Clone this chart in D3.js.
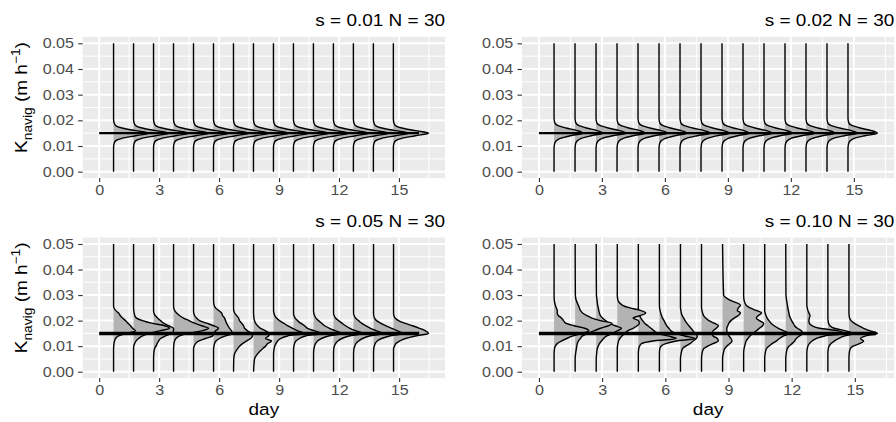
<!DOCTYPE html>
<html>
<head>
<meta charset="utf-8">
<script src="https://cdn.jsdelivr.net/npm/d3@7"></script>
<style>
  body { margin: 0; background: #fff; }
  text { font-family: "Liberation Sans", Arial, sans-serif; }
</style>
</head>
<body>
<svg id="chart" width="896" height="422"></svg>
<script>
// ---- data ----
const days = [1, 2, 3, 4, 5, 6, 7, 8, 9, 10, 11, 12, 13, 14, 15];
const dayShift = -0.28;               // ridge baseline sits just left of the day
const kRange = [0, 0.05];
const kRef = 0.015;                   // reference K_navig
const refSpan = [0, 16];
const xTicks = [0, 3, 6, 9, 12, 15];
const yTicks = [0, 0.01, 0.02, 0.03, 0.04, 0.05];
const panelTitles = ["s = 0.01 N = 30", "s = 0.02 N = 30", "s = 0.05 N = 30", "s = 0.10 N = 30"];

// K values where ridge widths were read (ridges are flat outside this range)
const kGrid = [0.005, 0.007, 0.009, 0.010, 0.011, 0.012, 0.013, 0.014, 0.015, 0.016, 0.017,
               0.018, 0.019, 0.020, 0.021, 0.022, 0.023, 0.024, 0.025, 0.026, 0.028, 0.030];

// ridge widths (in days) per day, one row per day, columns follow kGrid
const dens001 = [
  [0,0,0,.005,.03,.1,.42,1.1,1.76,1.1,.42,.1,.03,.005,0,0,0,0,0,0,0,0],
  [0,0,0,.005,.03,.1,.42,1.1,1.76,1.1,.42,.1,.03,.005,0,0,0,0,0,0,0,0],
  [0,0,0,.005,.03,.1,.42,1.1,1.76,1.1,.42,.1,.03,.005,0,0,0,0,0,0,0,0],
  [0,0,0,.005,.03,.1,.42,1.1,1.76,1.1,.42,.1,.03,.005,0,0,0,0,0,0,0,0],
  [0,0,0,.005,.03,.1,.42,1.1,1.76,1.1,.42,.1,.03,.005,0,0,0,0,0,0,0,0],
  [0,0,0,.005,.03,.1,.42,1.1,1.76,1.1,.42,.1,.03,.005,0,0,0,0,0,0,0,0],
  [0,0,0,.005,.03,.1,.42,1.1,1.76,1.1,.42,.1,.03,.005,0,0,0,0,0,0,0,0],
  [0,0,0,.005,.03,.1,.42,1.1,1.76,1.1,.42,.1,.03,.005,0,0,0,0,0,0,0,0],
  [0,0,0,.005,.03,.1,.42,1.1,1.76,1.1,.42,.1,.03,.005,0,0,0,0,0,0,0,0],
  [0,0,0,.005,.03,.1,.42,1.1,1.76,1.1,.42,.1,.03,.005,0,0,0,0,0,0,0,0],
  [0,0,0,.005,.03,.1,.42,1.1,1.76,1.1,.42,.1,.03,.005,0,0,0,0,0,0,0,0],
  [0,0,0,.005,.03,.1,.42,1.1,1.76,1.1,.42,.1,.03,.005,0,0,0,0,0,0,0,0],
  [0,0,0,.005,.03,.1,.42,1.1,1.76,1.1,.42,.1,.03,.005,0,0,0,0,0,0,0,0],
  [0,0,0,.005,.03,.1,.42,1.1,1.76,1.1,.42,.1,.03,.005,0,0,0,0,0,0,0,0],
  [0,0,0,.005,.03,.1,.42,1.1,1.76,1.1,.42,.1,.03,.005,0,0,0,0,0,0,0,0]
];

const dens002 = [
  [0,0,0,.01,.03,.1,.3,.78,1.38,1.1,.57,.17,.04,.01,0,0,0,0,0,0,0,0],
  [0,0,0,.01,.03,.1,.3,.76,1.32,1.05,.55,.17,.04,.01,0,0,0,0,0,0,0,0],
  [0,0,0,.01,.03,.1,.3,.8,1.42,1.12,.58,.18,.04,.01,0,0,0,0,0,0,0,0],
  [0,0,0,.01,.03,.1,.3,.77,1.35,1.08,.56,.17,.04,.01,0,0,0,0,0,0,0,0],
  [0,0,0,.01,.03,.1,.3,.78,1.40,1.1,.57,.17,.04,.01,0,0,0,0,0,0,0,0],
  [0,0,0,.01,.03,.1,.3,.76,1.33,1.05,.55,.17,.04,.01,0,0,0,0,0,0,0,0],
  [0,0,0,.01,.03,.1,.3,.82,1.45,1.15,.6,.18,.04,.01,0,0,0,0,0,0,0,0],
  [0,0,0,.01,.03,.1,.3,.77,1.36,1.08,.56,.17,.04,.01,0,0,0,0,0,0,0,0],
  [0,0,0,.01,.03,.1,.3,.75,1.30,1.05,.55,.17,.04,.01,0,0,0,0,0,0,0,0],
  [0,0,0,.01,.03,.1,.3,.78,1.40,1.12,.57,.17,.04,.01,0,0,0,0,0,0,0,0],
  [0,0,0,.01,.03,.1,.3,.77,1.35,1.08,.56,.17,.04,.01,0,0,0,0,0,0,0,0],
  [0,0,0,.01,.03,.1,.3,.8,1.42,1.12,.58,.18,.04,.01,0,0,0,0,0,0,0,0],
  [0,0,0,.01,.03,.1,.3,.78,1.38,1.1,.57,.17,.04,.01,0,0,0,0,0,0,0,0],
  [0,0,0,.01,.03,.1,.3,.82,1.45,1.15,.6,.18,.04,.01,0,0,0,0,0,0,0,0],
  [0,0,0,.01,.03,.1,.3,.8,1.40,1.12,.58,.18,.04,.01,0,0,0,0,0,0,0,0]
];

const dens005 = [
  [0,0,0,.01,.02,.05,.1,.25,.65,1.1,.95,.85,.72,.6,.45,.33,.25,.1,.02,0,0,0],
  [0,0,0,.01,.05,.12,.25,.45,.8,1.3,1.8,1.55,.9,.45,.15,.06,.03,.01,0,0,0,0],
  [0,.01,.05,.12,.18,.25,.35,.6,.9,1.0,1.0,.75,.5,.35,.2,.08,.02,0,0,0,0,0],
  [0,0,0,.01,.02,.05,.12,.3,.75,1.4,1.75,1.4,1.05,.78,.5,.3,.15,.05,.01,0,0,0],
  [0,0,0,.03,.1,.25,.6,.95,1.0,1.1,1.25,1.0,.65,.3,.15,.05,.01,0,0,0,0,0],
  [0,0,0,.02,.05,.12,.3,.6,.95,.9,.8,.72,.65,.6,.55,.45,.4,.25,.1,.03,0,0],
  [.01,.05,.2,.3,.45,.65,.85,.95,.9,.7,.55,.5,.4,.3,.25,.15,.05,.01,0,0,0,0],
  [.05,.2,.45,.6,.7,.9,.6,.75,.8,.6,.35,.2,.1,.05,.02,.01,0,0,0,0,0,0],
  [0,0,.03,.06,.12,.2,.35,.7,1.5,1.2,.95,.7,.5,.3,.15,.06,.02,0,0,0,0,0],
  [0,0,0,.02,.05,.12,.3,.6,1.4,1.05,.7,.55,.35,.2,.08,.02,0,0,0,0,0,0],
  [0,0,.02,.05,.1,.2,.4,.75,1.4,1.1,.8,.55,.4,.25,.12,.05,.01,0,0,0,0,0],
  [0,0,.01,.04,.1,.22,.42,.78,1.45,1.12,.82,.6,.42,.25,.1,.03,0,0,0,0,0,0],
  [0,0,.02,.06,.12,.25,.45,.8,1.45,1.15,.85,.6,.4,.25,.1,.03,0,0,0,0,0,0],
  [0,0,.01,.04,.08,.18,.4,.8,1.45,1.2,.9,.6,.35,.15,.05,.01,0,0,0,0,0,0],
  [0,0,0,.05,.12,.3,.6,1.1,1.75,1.6,1.3,.95,.55,.25,.08,.02,0,0,0,0,0,0]
];

const dens010 = [
  [0,0,.02,.06,.15,.35,.6,.9,1.3,1.65,1.45,.95,.55,.45,.35,.2,.15,.15,.1,.06,.01,0],
  [0,.02,.06,.08,.1,.15,.25,.35,.6,.9,1.2,1.6,1.75,1.2,.8,.55,.35,.25,.2,.15,.05,.01],
  [0,.02,.05,.1,.15,.25,.35,.5,.75,1.0,1.2,.9,.6,.45,.3,.2,.15,.12,.1,.07,.04,.01],
  [0,0,0,.01,.03,.06,.12,.22,.35,.5,.75,.95,1.05,1.0,.75,1.1,1.35,1.1,.6,.25,.03,0],
  [0,0,.02,.06,.15,.7,1.8,1.4,.95,.75,.6,.45,.3,.2,.12,.07,.03,.01,0,0,0,0],
  [0,0,.02,.08,.3,.8,1.7,1.2,.75,.55,.45,.35,.28,.22,.15,.1,.06,.03,.01,0,0,0],
  [0,.03,.1,.25,.45,.6,.75,.8,.7,.6,.5,.4,.3,.22,.15,.08,.04,.02,0,0,0,0],
  [0,.02,.1,.3,.55,.8,.75,.55,.5,.55,.7,.8,.6,.35,.2,.1,.05,.02,0,0,0,0],
  [0,.03,.1,.2,.35,.45,.4,.3,.25,.2,.2,.25,.3,.4,.55,.75,.85,.7,.75,.85,.35,.05],
  [0,0,.02,.05,.08,.12,.2,.3,.45,.6,.75,.9,.95,.75,.6,.7,.85,.6,.3,.12,.02,0],
  [0,.02,.08,.2,.35,.55,.7,.9,1.15,.9,.65,.45,.3,.2,.12,.06,.02,0,0,0,0,0],
  [0,.02,.07,.15,.3,.42,.5,.65,.8,.75,.55,.42,.35,.28,.22,.17,.15,.12,.1,.08,.04,.01],
  [0,0,.02,.05,.12,.25,.45,.85,1.75,1.5,.6,.25,.12,.1,.12,.15,.1,.05,.02,0,0,0],
  [0,0,.02,.06,.15,.3,.5,.8,1.2,.85,.3,.1,.03,.01,0,0,0,0,0,0,0,0],
  [0,.01,.06,.2,.5,.7,.55,.8,1.35,1.0,.7,.45,.25,.1,.03,.01,0,0,0,0,0,0]
];

// ---- layout ----
const TEXT_SX = 1.15;   // glyphs in the figure are wider than plain Arial
const colors = { panel: "#EBEBEB", grid: "#FFFFFF", fill: "#B3B3B3", tick: "#333333", tickText: "#4D4D4D" };

const panels = [
  { title: panelTitles[0], dens: dens001, left: 82.7, right: 445, top: 36.9, bottom: 178.1, yTitle: true, xTitle: false, refW: 2.2 },
  { title: panelTitles[1], dens: dens002, left: 522, right: 894.3, top: 36.9, bottom: 178.1, yTitle: false, xTitle: false, refW: 2.2 },
  { title: panelTitles[2], dens: dens005, left: 82.7, right: 445, top: 237.6, bottom: 378.1, yTitle: true, xTitle: true, refW: 3.5 },
  { title: panelTitles[3], dens: dens010, left: 522, right: 894.3, top: 237.6, bottom: 378.1, yTitle: false, xTitle: true, refW: 3.5 }
];

const svg = d3.select("#chart");

panels.forEach(p => drawPanel(p));

function drawPanel(p) {
  // x extent: ggplot expands the data range by 5 %
  const maxExt = Math.max(refSpan[1], d3.max(p.dens, (row, i) => days[i] + dayShift + d3.max(row)));
  const xPad = 0.05 * maxExt;
  const x = d3.scaleLinear().domain([0 - xPad, maxExt + xPad]).range([p.left, p.right]);
  const kPad = 0.05 * (kRange[1] - kRange[0]);
  const y = d3.scaleLinear().domain([kRange[0] - kPad, kRange[1] + kPad]).range([p.bottom, p.top]);

  const g = svg.append("g");

  g.append("rect")
    .attr("x", p.left).attr("y", p.top)
    .attr("width", p.right - p.left).attr("height", p.bottom - p.top)
    .attr("fill", colors.panel);

  // minor + major grid
  const xMinor = xTicks.map(t => t + 1.5).filter(t => t < x.domain()[1]);
  const yMinor = yTicks.slice(0, -1).map(t => t + 0.005);
  g.selectAll(".xminor").data(xMinor).join("line")
    .attr("x1", d => x(d)).attr("x2", d => x(d)).attr("y1", p.top).attr("y2", p.bottom)
    .attr("stroke", colors.grid).attr("stroke-width", 1);
  g.selectAll(".yminor").data(yMinor).join("line")
    .attr("y1", d => y(d)).attr("y2", d => y(d)).attr("x1", p.left).attr("x2", p.right)
    .attr("stroke", colors.grid).attr("stroke-width", 1);
  g.selectAll(".xmajor").data(xTicks).join("line")
    .attr("x1", d => x(d)).attr("x2", d => x(d)).attr("y1", p.top).attr("y2", p.bottom)
    .attr("stroke", colors.grid).attr("stroke-width", 2);
  g.selectAll(".ymajor").data(yTicks).join("line")
    .attr("y1", d => y(d)).attr("y2", d => y(d)).attr("x1", p.left).attr("x2", p.right)
    .attr("stroke", colors.grid).attr("stroke-width", 2);

  // ridges: later days drawn first so earlier ones lie on top
  const ridges = days.map((day, i) => {
    const pts = [{ k: kRange[1], w: 0 }];
    for (let j = kGrid.length - 1; j >= 0; j--) pts.push({ k: kGrid[j], w: p.dens[i][j] });
    pts.push({ k: kRange[0], w: 0 });
    return { base: day + dayShift, pts };
  }).reverse();

  ridges.forEach(r => {
    const area = d3.area()
      .y(d => y(d.k))
      .x0(x(r.base))
      .x1(d => x(r.base + d.w))
      .curve(d3.curveMonotoneY);
    const line = d3.line()
      .y(d => y(d.k))
      .x(d => x(r.base + d.w))
      .curve(d3.curveMonotoneY);
    g.append("path").attr("d", area(r.pts)).attr("fill", colors.fill);
    g.append("path").attr("d", line(r.pts))
      .attr("fill", "none").attr("stroke", "#000").attr("stroke-width", 1.4);
  });

  // reference line
  g.append("line")
    .attr("x1", x(refSpan[0])).attr("x2", x(refSpan[1]))
    .attr("y1", y(kRef)).attr("y2", y(kRef))
    .attr("stroke", "#000").attr("stroke-width", p.refW);

  // axes
  const yAxis = d3.axisLeft(y).tickValues(yTicks).tickFormat(d3.format(".2f"))
    .tickSize(4.5).tickPadding(4.2);
  const yG = g.append("g").attr("transform", `translate(${p.left},0)`).call(yAxis);
  const xAxis = d3.axisBottom(x).tickValues(xTicks).tickSize(4).tickPadding(3);
  const xG = g.append("g").attr("transform", `translate(0,${p.bottom})`).call(xAxis);

  [yG, xG].forEach(a => {
    a.select(".domain").remove();
    a.selectAll(".tick line").attr("stroke", colors.tick).attr("stroke-width", 1.1);
    a.selectAll(".tick text")
      .attr("fill", colors.tickText)
      .attr("font-size", 14)
      .attr("font-family", "Liberation Sans, Arial, sans-serif");
  });
  yG.selectAll(".tick text")
    .attr("x", -8.7 / TEXT_SX)
    .attr("transform", `scale(${TEXT_SX},1)`);
  xG.selectAll(".tick text")
    .attr("transform", `scale(${TEXT_SX},1)`);

  // panel title, right aligned
  g.append("text")
    .attr("transform", `translate(${p.right},${p.top - 10.5}) scale(${TEXT_SX},1)`)
    .attr("text-anchor", "end")
    .attr("font-size", 16.5)
    .attr("fill", "#000")
    .text(p.title);

  if (p.xTitle) {
    g.append("text")
      .attr("transform", `translate(${(p.left + p.right) / 2},${p.bottom + 36.5})  scale(${TEXT_SX},1)`)
      .attr("text-anchor", "middle")
      .attr("font-size", 16.5)
      .text("day");
  }

  if (p.yTitle) {
    const cy = (p.top + p.bottom) / 2 - 10;
    const t = g.append("text")
      .attr("transform", `translate(27,${cy}) rotate(-90) scale(${TEXT_SX},1)`)
      .attr("text-anchor", "middle")
      .attr("font-size", 16.5);
    t.append("tspan").text("K");
    t.append("tspan").attr("font-size", 12).attr("dy", 4.5).text("navig");
    t.append("tspan").attr("dy", -4.5).text(" (m h");
    t.append("tspan").attr("font-size", 12).attr("dy", -7).text("\u22121");
    t.append("tspan").attr("dy", 7).text(")");
  }
}
</script>
</body>
</html>
